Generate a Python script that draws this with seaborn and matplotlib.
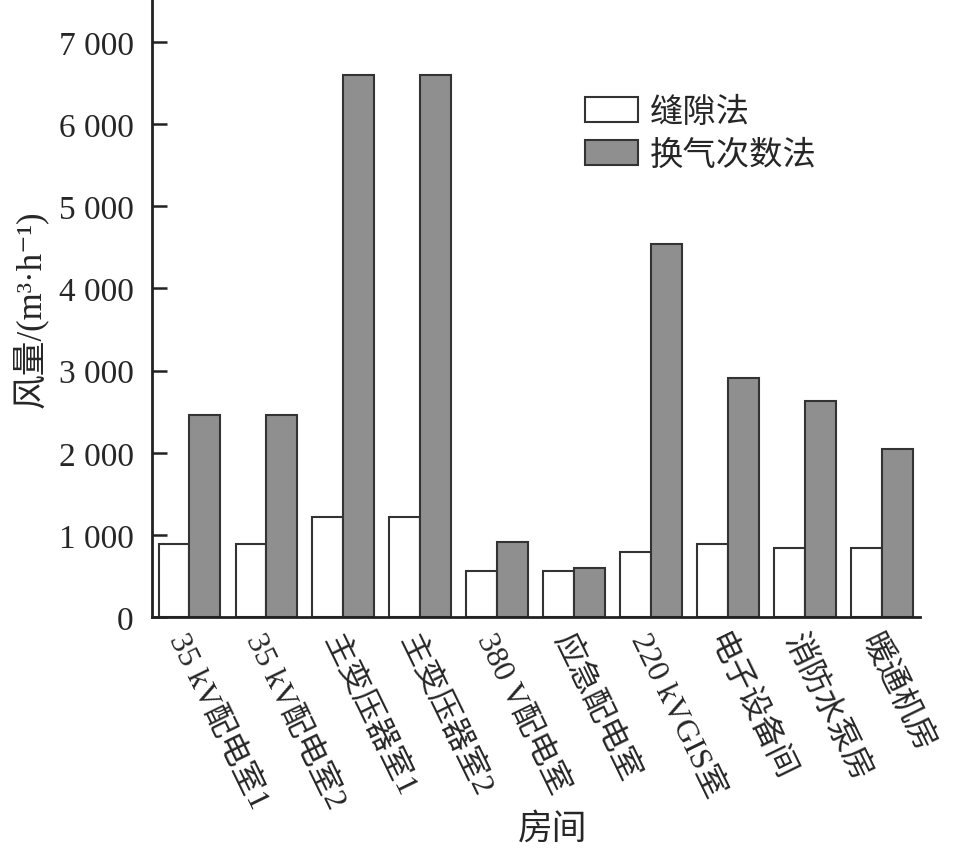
import pandas as pd
import matplotlib
matplotlib.use("Agg")
import matplotlib.pyplot as plt
import matplotlib.ticker as mticker
import seaborn as sns

# data
rooms = ["35 kV配电室1", "35 kV配电室2", "主变压器室1", "主变压器室2", "380 V配电室",
         "应急配电室", "220 kVGIS室", "电子设备间", "消防水泵房", "暖通机房"]
gap_method = [890, 890, 1220, 1220, 560, 560, 790, 890, 840, 840]
ach_method = [2460, 2460, 6590, 6590, 915, 600, 4545, 2910, 2630, 2045]
methods = ["缝隙法", "换气次数法"]

df = pd.DataFrame({
    "room": rooms * 2,
    "flow": gap_method + ach_method,
    "method": [methods[0]] * len(rooms) + [methods[1]] * len(rooms),
})

sns.set_style("ticks")
plt.rcParams["font.family"] = ["Liberation Serif", "Noto Sans CJK SC", "DejaVu Sans"]

fig = plt.figure(figsize=(9.66, 8.54), dpi=100)
ax = fig.add_axes([0.157, 0.276, 0.795, 0.724])

sns.barplot(data=df, x="room", y="flow", hue="method", palette=["white", "#8f8f8f"],
            edgecolor="#333333", linewidth=1.5, width=0.8, ax=ax)

ax.set_xlim(-0.49, 9.49)
ax.set_ylim(0, 7520)
ax.yaxis.set_major_locator(mticker.MultipleLocator(1000))
ax.yaxis.set_major_formatter(mticker.FuncFormatter(
    lambda v, p: f"{int(v):,}".replace(",", " ")))

ax.tick_params(axis="both", direction="in", width=1.8, length=11, color="#222222",
               labelsize=24)
ax.tick_params(axis="y", pad=13)
ax.tick_params(axis="x", length=8, pad=8, labelsize=23)
for s in ["top", "right"]:
    ax.spines[s].set_visible(False)
for s in ["left", "bottom"]:
    ax.spines[s].set_linewidth(2)
    ax.spines[s].set_color("#222222")

plt.setp(ax.get_xticklabels(), rotation=-64, ha="left", va="top", rotation_mode="anchor")

ax.set_xlabel("")
fig.text(0.572, 0.028, "房间", fontsize=25, ha="center", va="center")
ax.set_ylabel("风量/(m³·h⁻¹)", fontsize=25, labelpad=8)

ax.legend(loc="upper left", bbox_to_anchor=(0.525, 0.89), frameon=False, fontsize=24,
          handlelength=1.6, handleheight=0.75, labelspacing=0.35, handletextpad=0.35)

fig.savefig("out.png", dpi=100)
